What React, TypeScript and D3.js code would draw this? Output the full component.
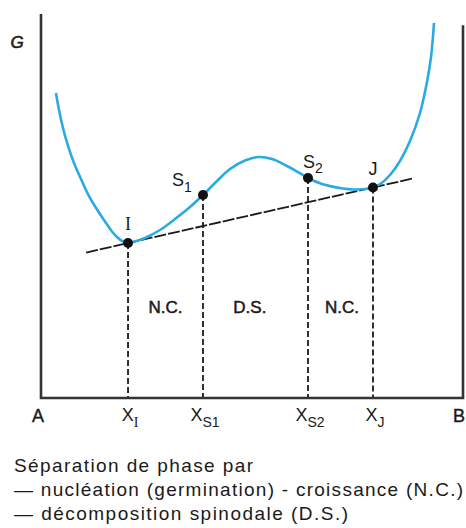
import React from "react";
import * as d3 from "d3";

// Free-energy curve G(X), composition in % from A (0) to B (100)
const curveX = [3.55, 4.27, 5.21, 6.40, 7.82, 9.48, 11.37, 13.51, 15.40, 16.82, 18.01, 19.19, 20.62, 22.27, 24.64, 28.20, 31.75, 35.31, 38.39, 41.23, 44.79, 48.34, 51.42, 54.74, 58.29, 60.90, 63.27, 66.59, 70.85, 74.64, 78.67, 80.57, 82.70, 85.07, 87.44, 89.81, 91.47, 92.42, 93.13];
const curveG = [79.43, 75.0, 70.31, 65.63, 61.20, 57.03, 52.60, 48.70, 45.57, 43.36, 41.93, 40.89, 40.36, 40.76, 41.67, 43.75, 46.61, 49.74, 52.86, 55.99, 59.64, 61.85, 62.76, 62.24, 60.42, 58.85, 57.29, 55.73, 54.69, 54.30, 54.82, 55.86, 58.07, 61.72, 66.93, 74.22, 82.29, 88.80, 97.66];

// Special points
const pointNames = ["I", "S1", "S2", "J"];
const pointX = [20.62, 38.39, 63.27, 78.67];
const pointG = [40.36, 52.86, 57.29, 54.82];

// Tangent (common tangent) extent
const tangentX = [10.7, 88.2];

// Axis labels
const axisMain = ["X", "X", "X", "X"];
const axisSub = ["I", "S1", "S2", "J"];

// Region labels
const regionLabels = ["N.C.", "D.S.", "N.C."];
const regionX = [29.5, 49.5, 71.3];

const legendLines = [
  "Séparation de phase par",
  "— nucléation (germination) - croissance (N.C.)",
  "— décomposition spinodale (D.S.)",
];
const legendWidths = [239, 449, 334];

const W = 466;
const H = 528;

export default function App() {
  const x = d3.scaleLinear().domain([0, 100]).range([41, 463]);
  const y = d3.scaleLinear().domain([0, 100]).range([398, 14]);

  const pts: [number, number][] = curveX.map((v, i) => [v, curveG[i]]);
  const line = d3
    .line<[number, number]>()
    .x((d) => x(d[0]))
    .y((d) => y(d[1]))
    .curve(d3.curveCatmullRom.alpha(0.5));

  const slope = (pointG[3] - pointG[0]) / (pointX[3] - pointX[0]);
  const tg = (xv: number) => pointG[0] + slope * (xv - pointX[0]);

  const font = "'Liberation Sans', Arial, Helvetica, sans-serif";
  const serif = "'Liberation Serif', 'Times New Roman', serif";
  const ink = "#1a1a1a";

  return (
    <svg width={W} height={H} style={{ position: "absolute", left: 0, top: 0 }}>
      <rect x={0} y={0} width={W} height={H} fill="#fff" />
      {/* axes */}
      <path
        d={`M${x(0)},${y(100)} L${x(0)},${y(0)} L${x(100)},${y(0)} L${x(100)},${y(97.1)}`}
        fill="none"
        stroke="#333"
        strokeWidth={2.6}
      />
      <text x={17} y={48} fontFamily={font} fontStyle="italic" fontSize={17} fill={ink} textAnchor="middle" stroke={ink} strokeWidth={0.6}>
        G
      </text>

      {/* vertical dashed lines */}
      {pointX.map((px, i) => (
        <line key={"v" + i} x1={x(px)} x2={x(px)} y1={y(pointG[i])} y2={y(0) - 1} stroke={ink} strokeWidth={1.8} strokeDasharray="6,3" />
      ))}

      {/* tangent */}
      <line
        x1={x(tangentX[0])}
        y1={y(tg(tangentX[0]))}
        x2={x(tangentX[1])}
        y2={y(tg(tangentX[1]))}
        stroke={ink}
        strokeWidth={1.8}
        strokeDasharray="12,2"
      />

      {/* curve */}
      <path d={line(pts) || ""} fill="none" stroke="#29abe2" strokeWidth={2.6} strokeLinejoin="round" />

      {/* points */}
      {pointX.map((px, i) => (
        <circle key={"p" + i} cx={x(px)} cy={y(pointG[i])} r={5} fill="#111" />
      ))}

      {/* point labels */}
      <text x={x(pointX[0])} y={y(pointG[0]) - 13} fontFamily={serif} fontSize={18} fill={ink} textAnchor="middle">
        I
      </text>
      <text x={x(pointX[1]) - 31} y={y(pointG[1]) - 9} fontFamily={font} fontSize={18} fill={ink}>
        S<tspan dy={6} fontSize={14}>1</tspan>
      </text>
      <text x={x(pointX[2]) - 5} y={y(pointG[2]) - 10} fontFamily={font} fontSize={18} fill={ink}>
        S<tspan dy={5} fontSize={14}>2</tspan>
      </text>
      <text x={x(pointX[3])} y={y(pointG[3]) - 12} fontFamily={font} fontSize={18} fill={ink} textAnchor="middle">
        J
      </text>

      {/* region labels */}
      {regionLabels.map((t, i) => (
        <text key={"r" + i} x={x(regionX[i])} y={313} fontFamily={font} fontSize={17} fill={ink} textAnchor="middle" stroke={ink} strokeWidth={0.5}>
          {t}
        </text>
      ))}

      {/* axis labels */}
      <text x={38} y={422} fontFamily={font} fontSize={18} fill={ink} textAnchor="middle" stroke={ink} strokeWidth={0.4}>
        A
      </text>
      <text x={453} y={422} fontFamily={font} fontSize={18} fill={ink} stroke={ink} strokeWidth={0.4}>
        B
      </text>
      {pointX.map((px, i) => (
        <text key={"a" + i} x={x(px) + 2} y={421} fontFamily={font} fontSize={18} fill={ink} textAnchor="middle">
          {axisMain[i]}
          <tspan dy={6} fontSize={14} fontFamily={axisSub[i] === "I" ? serif : font}>
            {axisSub[i]}
          </tspan>
        </text>
      ))}

      {/* legend */}
      {legendLines.map((t, i) => (
        <text
          key={"l" + i}
          x={14}
          y={472 + i * 24}
          fontFamily={font}
          fontSize={19}
          fill={ink}
          textLength={legendWidths[i]}
          lengthAdjust="spacing"
        >
          {t}
        </text>
      ))}
    </svg>
  );
}
